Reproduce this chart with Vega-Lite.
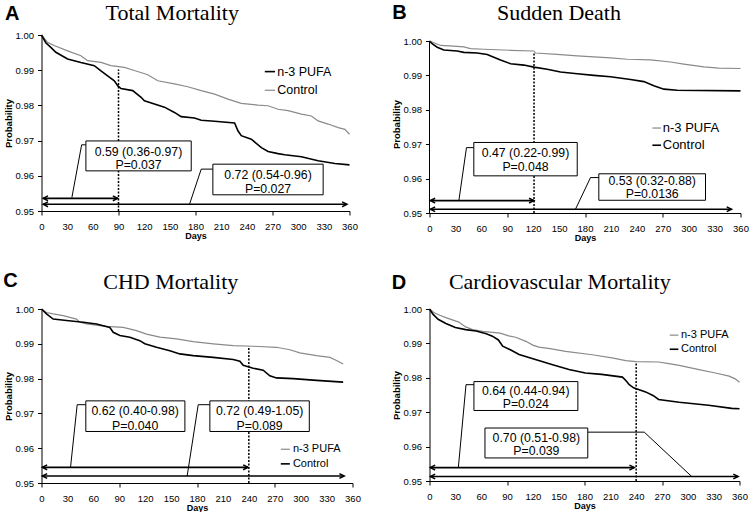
{
"$schema": "https://vega.github.io/schema/vega-lite/v6.json",
"background": "white",
"padding": {"left": 2.5, "top": 2, "right": 0, "bottom": 0},
"columns": 2,
"spacing": {"row": 29, "column": 30},
"datasets": {
"curves": [
{"panel":"A","series":"n-3 PUFA","x":0,"y":1},{"panel":"A","series":"n-3 PUFA","x":5,"y":0.9978},{"panel":"A","series":"n-3 PUFA","x":10.9,"y":0.9965},{"panel":"A","series":"n-3 PUFA","x":16.8,"y":0.9951},{"panel":"A","series":"n-3 PUFA","x":30.5,"y":0.9932},{"panel":"A","series":"n-3 PUFA","x":46.1,"y":0.9922},{"panel":"A","series":"n-3 PUFA","x":61.7,"y":0.9913},{"panel":"A","series":"n-3 PUFA","x":69.5,"y":0.9898},{"panel":"A","series":"n-3 PUFA","x":77.3,"y":0.9884},{"panel":"A","series":"n-3 PUFA","x":85.1,"y":0.987},{"panel":"A","series":"n-3 PUFA","x":89,"y":0.9856},{"panel":"A","series":"n-3 PUFA","x":92.9,"y":0.9848},{"panel":"A","series":"n-3 PUFA","x":106.6,"y":0.9842},{"panel":"A","series":"n-3 PUFA","x":116.4,"y":0.9823},{"panel":"A","series":"n-3 PUFA","x":120.3,"y":0.9813},{"panel":"A","series":"n-3 PUFA","x":132,"y":0.9804},{"panel":"A","series":"n-3 PUFA","x":143.7,"y":0.9795},{"panel":"A","series":"n-3 PUFA","x":155.4,"y":0.978},{"panel":"A","series":"n-3 PUFA","x":163.2,"y":0.9768},{"panel":"A","series":"n-3 PUFA","x":178.8,"y":0.9764},{"panel":"A","series":"n-3 PUFA","x":186.7,"y":0.9758},{"panel":"A","series":"n-3 PUFA","x":202.3,"y":0.9755},{"panel":"A","series":"n-3 PUFA","x":225.7,"y":0.975},{"panel":"A","series":"n-3 PUFA","x":229.6,"y":0.9728},{"panel":"A","series":"n-3 PUFA","x":233.5,"y":0.9714},{"panel":"A","series":"n-3 PUFA","x":245.2,"y":0.9704},{"panel":"A","series":"n-3 PUFA","x":257,"y":0.968},{"panel":"A","series":"n-3 PUFA","x":264.8,"y":0.9669},{"panel":"A","series":"n-3 PUFA","x":276.5,"y":0.9663},{"panel":"A","series":"n-3 PUFA","x":284.3,"y":0.966},{"panel":"A","series":"n-3 PUFA","x":303.8,"y":0.9654},{"panel":"A","series":"n-3 PUFA","x":323.3,"y":0.9643},{"panel":"A","series":"n-3 PUFA","x":342.9,"y":0.9635},{"panel":"A","series":"n-3 PUFA","x":360,"y":0.9631},
{"panel":"A","series":"Control","x":0,"y":1},{"panel":"A","series":"Control","x":7,"y":0.9979},{"panel":"A","series":"Control","x":14.8,"y":0.997},{"panel":"A","series":"Control","x":30.5,"y":0.9955},{"panel":"A","series":"Control","x":46.1,"y":0.9941},{"panel":"A","series":"Control","x":53.9,"y":0.9927},{"panel":"A","series":"Control","x":69.5,"y":0.9922},{"panel":"A","series":"Control","x":81.2,"y":0.9913},{"panel":"A","series":"Control","x":96.8,"y":0.9908},{"panel":"A","series":"Control","x":108.6,"y":0.9899},{"panel":"A","series":"Control","x":124.2,"y":0.9887},{"panel":"A","series":"Control","x":135.9,"y":0.987},{"panel":"A","series":"Control","x":155.4,"y":0.9861},{"panel":"A","series":"Control","x":171,"y":0.9853},{"panel":"A","series":"Control","x":186.7,"y":0.9842},{"panel":"A","series":"Control","x":202.3,"y":0.9832},{"panel":"A","series":"Control","x":217.9,"y":0.9818},{"panel":"A","series":"Control","x":233.5,"y":0.9806},{"panel":"A","series":"Control","x":253,"y":0.9801},{"panel":"A","series":"Control","x":264.8,"y":0.9799},{"panel":"A","series":"Control","x":276.5,"y":0.9789},{"panel":"A","series":"Control","x":288.2,"y":0.9785},{"panel":"A","series":"Control","x":303.8,"y":0.9775},{"panel":"A","series":"Control","x":315.5,"y":0.977},{"panel":"A","series":"Control","x":323.3,"y":0.9756},{"panel":"A","series":"Control","x":335,"y":0.9747},{"panel":"A","series":"Control","x":346.8,"y":0.9737},{"panel":"A","series":"Control","x":354.6,"y":0.9732},{"panel":"A","series":"Control","x":360,"y":0.9718},
{"panel":"B","series":"n-3 PUFA","x":0,"y":1},{"panel":"B","series":"n-3 PUFA","x":5,"y":0.9995},{"panel":"B","series":"n-3 PUFA","x":12.7,"y":0.9987},{"panel":"B","series":"n-3 PUFA","x":28,"y":0.9985},{"panel":"B","series":"n-3 PUFA","x":39.7,"y":0.9983},{"panel":"B","series":"n-3 PUFA","x":47.5,"y":0.9978},{"panel":"B","series":"n-3 PUFA","x":62.9,"y":0.9976},{"panel":"B","series":"n-3 PUFA","x":93.8,"y":0.9973},{"panel":"B","series":"n-3 PUFA","x":120.8,"y":0.9971},{"panel":"B","series":"n-3 PUFA","x":122.7,"y":0.9965},{"panel":"B","series":"n-3 PUFA","x":147.8,"y":0.9961},{"panel":"B","series":"n-3 PUFA","x":171,"y":0.9957},{"panel":"B","series":"n-3 PUFA","x":209.5,"y":0.9951},{"panel":"B","series":"n-3 PUFA","x":228.8,"y":0.9947},{"panel":"B","series":"n-3 PUFA","x":255.9,"y":0.9945},{"panel":"B","series":"n-3 PUFA","x":279,"y":0.9939},{"panel":"B","series":"n-3 PUFA","x":294.4,"y":0.9933},{"panel":"B","series":"n-3 PUFA","x":317.6,"y":0.9925},{"panel":"B","series":"n-3 PUFA","x":335,"y":0.9921},{"panel":"B","series":"n-3 PUFA","x":360,"y":0.992},
{"panel":"B","series":"Control","x":0,"y":1},{"panel":"B","series":"Control","x":3,"y":0.9992},{"panel":"B","series":"Control","x":8.9,"y":0.9982},{"panel":"B","series":"Control","x":16.6,"y":0.9974},{"panel":"B","series":"Control","x":32,"y":0.9971},{"panel":"B","series":"Control","x":39.7,"y":0.9967},{"panel":"B","series":"Control","x":55.2,"y":0.9965},{"panel":"B","series":"Control","x":66.8,"y":0.9961},{"panel":"B","series":"Control","x":82.2,"y":0.9945},{"panel":"B","series":"Control","x":93.8,"y":0.9934},{"panel":"B","series":"Control","x":109.2,"y":0.993},{"panel":"B","series":"Control","x":120.8,"y":0.9924},{"panel":"B","series":"Control","x":136.2,"y":0.9918},{"panel":"B","series":"Control","x":151.7,"y":0.991},{"panel":"B","series":"Control","x":171,"y":0.9905},{"panel":"B","series":"Control","x":190.3,"y":0.99},{"panel":"B","series":"Control","x":209.5,"y":0.9896},{"panel":"B","series":"Control","x":232.7,"y":0.9888},{"panel":"B","series":"Control","x":248.1,"y":0.9882},{"panel":"B","series":"Control","x":259.7,"y":0.987},{"panel":"B","series":"Control","x":271.3,"y":0.986},{"panel":"B","series":"Control","x":286.7,"y":0.9857},{"panel":"B","series":"Control","x":360,"y":0.9855},
{"panel":"C","series":"n-3 PUFA","x":0,"y":1},{"panel":"C","series":"n-3 PUFA","x":5.8,"y":0.999},{"panel":"C","series":"n-3 PUFA","x":13.5,"y":0.9986},{"panel":"C","series":"n-3 PUFA","x":25.1,"y":0.9981},{"panel":"C","series":"n-3 PUFA","x":32.8,"y":0.9976},{"panel":"C","series":"n-3 PUFA","x":40.5,"y":0.9971},{"panel":"C","series":"n-3 PUFA","x":44.4,"y":0.9962},{"panel":"C","series":"n-3 PUFA","x":52.1,"y":0.9957},{"panel":"C","series":"n-3 PUFA","x":67.5,"y":0.9952},{"panel":"C","series":"n-3 PUFA","x":75.3,"y":0.995},{"panel":"C","series":"n-3 PUFA","x":94.5,"y":0.9947},{"panel":"C","series":"n-3 PUFA","x":110,"y":0.9938},{"panel":"C","series":"n-3 PUFA","x":121.6,"y":0.9928},{"panel":"C","series":"n-3 PUFA","x":137,"y":0.9919},{"panel":"C","series":"n-3 PUFA","x":156.3,"y":0.9914},{"panel":"C","series":"n-3 PUFA","x":175.6,"y":0.9906},{"panel":"C","series":"n-3 PUFA","x":198.7,"y":0.99},{"panel":"C","series":"n-3 PUFA","x":221.9,"y":0.9895},{"panel":"C","series":"n-3 PUFA","x":245,"y":0.9893},{"panel":"C","series":"n-3 PUFA","x":272,"y":0.989},{"panel":"C","series":"n-3 PUFA","x":287.5,"y":0.9883},{"panel":"C","series":"n-3 PUFA","x":299,"y":0.9874},{"panel":"C","series":"n-3 PUFA","x":318.4,"y":0.9866},{"panel":"C","series":"n-3 PUFA","x":333.8,"y":0.9861},{"panel":"C","series":"n-3 PUFA","x":341.5,"y":0.9852},{"panel":"C","series":"n-3 PUFA","x":349.2,"y":0.9842},
{"panel":"C","series":"Control","x":0,"y":1},{"panel":"C","series":"Control","x":5.8,"y":0.9986},{"panel":"C","series":"Control","x":13.5,"y":0.9971},{"panel":"C","series":"Control","x":28.9,"y":0.9967},{"panel":"C","series":"Control","x":48.2,"y":0.9962},{"panel":"C","series":"Control","x":63.7,"y":0.9957},{"panel":"C","series":"Control","x":79.1,"y":0.9947},{"panel":"C","series":"Control","x":83,"y":0.9933},{"panel":"C","series":"Control","x":90.7,"y":0.9924},{"panel":"C","series":"Control","x":102.3,"y":0.9919},{"panel":"C","series":"Control","x":113.8,"y":0.9909},{"panel":"C","series":"Control","x":119.6,"y":0.99},{"panel":"C","series":"Control","x":133.1,"y":0.989},{"panel":"C","series":"Control","x":148.6,"y":0.988},{"panel":"C","series":"Control","x":160.1,"y":0.9871},{"panel":"C","series":"Control","x":175.6,"y":0.9866},{"panel":"C","series":"Control","x":198.7,"y":0.9861},{"panel":"C","series":"Control","x":221.9,"y":0.9855},{"panel":"C","series":"Control","x":229.6,"y":0.985},{"panel":"C","series":"Control","x":233.5,"y":0.9838},{"panel":"C","series":"Control","x":245,"y":0.983},{"panel":"C","series":"Control","x":256.6,"y":0.9824},{"panel":"C","series":"Control","x":264.3,"y":0.9808},{"panel":"C","series":"Control","x":272,"y":0.9802},{"panel":"C","series":"Control","x":291.4,"y":0.98},{"panel":"C","series":"Control","x":318.4,"y":0.9795},{"panel":"C","series":"Control","x":349.2,"y":0.979},
{"panel":"D","series":"n-3 PUFA","x":0,"y":1},{"panel":"D","series":"n-3 PUFA","x":5,"y":0.999},{"panel":"D","series":"n-3 PUFA","x":12,"y":0.9982},{"panel":"D","series":"n-3 PUFA","x":19,"y":0.9975},{"panel":"D","series":"n-3 PUFA","x":34,"y":0.9962},{"panel":"D","series":"n-3 PUFA","x":42,"y":0.9948},{"panel":"D","series":"n-3 PUFA","x":50,"y":0.994},{"panel":"D","series":"n-3 PUFA","x":62,"y":0.9935},{"panel":"D","series":"n-3 PUFA","x":82,"y":0.993},{"panel":"D","series":"n-3 PUFA","x":92,"y":0.9922},{"panel":"D","series":"n-3 PUFA","x":100,"y":0.9918},{"panel":"D","series":"n-3 PUFA","x":112,"y":0.9906},{"panel":"D","series":"n-3 PUFA","x":120,"y":0.9895},{"panel":"D","series":"n-3 PUFA","x":127,"y":0.9889},{"panel":"D","series":"n-3 PUFA","x":140,"y":0.9885},{"panel":"D","series":"n-3 PUFA","x":158,"y":0.9877},{"panel":"D","series":"n-3 PUFA","x":189,"y":0.9867},{"panel":"D","series":"n-3 PUFA","x":212,"y":0.9858},{"panel":"D","series":"n-3 PUFA","x":228,"y":0.985},{"panel":"D","series":"n-3 PUFA","x":240,"y":0.9847},{"panel":"D","series":"n-3 PUFA","x":266,"y":0.9846},{"panel":"D","series":"n-3 PUFA","x":278,"y":0.9841},{"panel":"D","series":"n-3 PUFA","x":290,"y":0.9836},{"panel":"D","series":"n-3 PUFA","x":313,"y":0.9824},{"panel":"D","series":"n-3 PUFA","x":332,"y":0.9814},{"panel":"D","series":"n-3 PUFA","x":348,"y":0.9805},{"panel":"D","series":"n-3 PUFA","x":355,"y":0.9797},{"panel":"D","series":"n-3 PUFA","x":360,"y":0.9787},
{"panel":"D","series":"Control","x":0,"y":1},{"panel":"D","series":"Control","x":4,"y":0.9985},{"panel":"D","series":"Control","x":10,"y":0.997},{"panel":"D","series":"Control","x":19,"y":0.9958},{"panel":"D","series":"Control","x":30,"y":0.9946},{"panel":"D","series":"Control","x":42,"y":0.994},{"panel":"D","series":"Control","x":54,"y":0.9936},{"panel":"D","series":"Control","x":66,"y":0.9928},{"panel":"D","series":"Control","x":73,"y":0.9921},{"panel":"D","series":"Control","x":80,"y":0.991},{"panel":"D","series":"Control","x":85,"y":0.9892},{"panel":"D","series":"Control","x":95,"y":0.988},{"panel":"D","series":"Control","x":104,"y":0.9868},{"panel":"D","series":"Control","x":123,"y":0.9853},{"panel":"D","series":"Control","x":143,"y":0.9838},{"panel":"D","series":"Control","x":162,"y":0.9824},{"panel":"D","series":"Control","x":181,"y":0.9814},{"panel":"D","series":"Control","x":200,"y":0.981},{"panel":"D","series":"Control","x":224,"y":0.9802},{"panel":"D","series":"Control","x":228,"y":0.9792},{"panel":"D","series":"Control","x":232,"y":0.978},{"panel":"D","series":"Control","x":237,"y":0.9771},{"panel":"D","series":"Control","x":251,"y":0.9759},{"panel":"D","series":"Control","x":260,"y":0.9748},{"panel":"D","series":"Control","x":266,"y":0.9737},{"panel":"D","series":"Control","x":290,"y":0.9729},{"panel":"D","series":"Control","x":324,"y":0.972},{"panel":"D","series":"Control","x":351,"y":0.9711},{"panel":"D","series":"Control","x":360,"y":0.971}
],
"axisline": [
{"panel":"B","x":0,"y":0.95,"y2":1.0}
],
"dotted": [
{"panel":"A","x":90,"y":0.95,"y2":0.9902},
{"panel":"B","x":121,"y":0.95,"y2":0.9966},
{"panel":"C","x":240,"y":0.95,"y2":0.9893},
{"panel":"D","x":240,"y":0.95,"y2":0.9847}
],
"arrows": [
{"panel":"A","x":2,"x2":89,"y":0.9536},{"panel":"A","x":2,"x2":357,"y":0.9519},
{"panel":"B","x":1,"x2":120.8,"y":0.9536},{"panel":"B","x":1,"x2":349.6,"y":0.9511},
{"panel":"C","x":1,"x2":239,"y":0.9545},{"panel":"C","x":1,"x2":350.4,"y":0.952},
{"panel":"D","x":1,"x2":237.8,"y":0.9539},{"panel":"D","x":1,"x2":358.4,"y":0.9513}
],
"leaders": [
{"panel":"A","id":"A1","k":1,"x":51.9,"y":0.9688},{"panel":"A","id":"A1","k":2,"x":46.9,"y":0.9688},{"panel":"A","id":"A1","k":3,"x":35.5,"y":0.9538},
{"panel":"A","id":"A2","k":1,"x":200.3,"y":0.9619},{"panel":"A","id":"A2","k":2,"x":186.7,"y":0.9619},{"panel":"A","id":"A2","k":3,"x":173,"y":0.9519},
{"panel":"B","id":"B1","k":1,"x":51.3,"y":0.969},{"panel":"B","id":"B1","k":2,"x":42.8,"y":0.969},{"panel":"B","id":"B1","k":3,"x":34,"y":0.9536},
{"panel":"B","id":"B2","k":1,"x":196,"y":0.9603},{"panel":"B","id":"B2","k":2,"x":186.4,"y":0.9603},{"panel":"B","id":"B2","k":3,"x":169,"y":0.9511},
{"panel":"C","id":"C1","k":1,"x":51.3,"y":0.9725},{"panel":"C","id":"C1","k":2,"x":41.3,"y":0.9725},{"panel":"C","id":"C1","k":3,"x":33.6,"y":0.9545},
{"panel":"C","id":"C2","k":1,"x":194.9,"y":0.9725},{"panel":"C","id":"C2","k":2,"x":181.4,"y":0.9725},{"panel":"C","id":"C2","k":3,"x":168.6,"y":0.952},
{"panel":"D","id":"D1","k":1,"x":51.6,"y":0.978},{"panel":"D","id":"D1","k":2,"x":42.4,"y":0.978},{"panel":"D","id":"D1","k":3,"x":33.5,"y":0.9539},
{"panel":"D","id":"D2","k":1,"x":183.8,"y":0.9642},{"panel":"D","id":"D2","k":2,"x":249.4,"y":0.9642},{"panel":"D","id":"D2","k":3,"x":304.5,"y":0.9513}
],
"boxes": [
{"panel":"A","x":51.9,"x2":175,"y":0.9699,"y2":0.9614},{"panel":"A","x":200.3,"x2":329.2,"y":0.9633,"y2":0.9546},
{"panel":"B","x":51.3,"x2":171,"y":0.9705,"y2":0.9608},{"panel":"B","x":196,"x2":319.5,"y":0.9614,"y2":0.9537},
{"panel":"C","x":51.3,"x2":166,"y":0.9736,"y2":0.9648},{"panel":"C","x":194.9,"x2":310,"y":0.9736,"y2":0.9648},
{"panel":"D","x":51.6,"x2":172.3,"y":0.9789,"y2":0.9705},{"panel":"D","x":64.4,"x2":183.8,"y":0.9654,"y2":0.9567}
],
"boxtext": [
{"panel":"A","x":113.4,"y":0.9669,"t":"0.59 (0.36-0.97)"},{"panel":"A","x":113.4,"y":0.9631,"t":"P=0.037"},
{"panel":"A","x":264.8,"y":0.9602,"t":"0.72 (0.54-0.96)"},{"panel":"A","x":264.8,"y":0.9562,"t":"P=0.027"},
{"panel":"B","x":111.1,"y":0.9673,"t":"0.47 (0.22-0.99)"},{"panel":"B","x":111.1,"y":0.9635,"t":"P=0.048"},
{"panel":"B","x":257.8,"y":0.9593,"t":"0.53 (0.32-0.88)"},{"panel":"B","x":257.8,"y":0.9555,"t":"P=0.0136"},
{"panel":"C","x":108.4,"y":0.9708,"t":"0.62 (0.40-0.98)"},{"panel":"C","x":108.4,"y":0.9665,"t":"P=0.040"},
{"panel":"C","x":252.5,"y":0.9708,"t":"0.72 (0.49-1.05)"},{"panel":"C","x":252.5,"y":0.9665,"t":"P=0.089"},
{"panel":"D","x":111.8,"y":0.9763,"t":"0.64 (0.44-0.94)"},{"panel":"D","x":111.8,"y":0.9724,"t":"P=0.024"},
{"panel":"D","x":124.1,"y":0.9624,"t":"0.70 (0.51-0.98)"},{"panel":"D","x":124.1,"y":0.9586,"t":"P=0.039"}
],
"legend": [
{"panel":"A","series":"n-3 PUFA","x":261,"x2":273,"y":0.9896,"tx":275.5,"t":"n-3 PUFA"},{"panel":"A","series":"Control","x":261,"x2":273,"y":0.9843,"tx":275.5,"t":"Control"},
{"panel":"B","series":"n-3 PUFA","x":258,"x2":268,"y":0.9747,"tx":270,"t":"n-3 PUFA"},{"panel":"B","series":"Control","x":258,"x2":268,"y":0.9697,"tx":270,"t":"Control"},
{"panel":"C","series":"n-3 PUFA","x":277,"x2":287.5,"y":0.9597,"tx":291,"t":"n-3 PUFA"},{"panel":"C","series":"Control","x":277,"x2":287.5,"y":0.9555,"tx":291,"t":"Control"},
{"panel":"D","series":"n-3 PUFA","x":279,"x2":289,"y":0.9924,"tx":292,"t":"n-3 PUFA"},{"panel":"D","series":"Control","x":279,"x2":289,"y":0.9883,"tx":292,"t":"Control"}
],
"heads": [
{"panel":"A","kind":"letter","x":-42.7,"y":1.0042,"t":"A"},{"panel":"A","kind":"title","x":152.8,"y":1.0042,"t":"Total Mortality"},
{"panel":"B","kind":"letter","x":-43.2,"y":1.00654,"t":"B"},{"panel":"B","kind":"title","x":149.8,"y":1.00605,"t":"Sudden Death"},
{"panel":"C","kind":"letter","x":-44.4,"y":1.0062,"t":"C"},{"panel":"C","kind":"title","x":149.7,"y":1.0057,"t":"CHD Mortality"},
{"panel":"D","kind":"letter","x":-43.7,"y":1.0059,"t":"D"},{"panel":"D","kind":"title","x":151.3,"y":1.0058,"t":"Cardiovascular Mortality"}
]
},
"concat": [
{
"width": 308, "height": 176,
"encoding": {
"x": {"field":"x","type":"quantitative","title":"Days","scale":{"domain":[0,360],"nice":false,"zero":false},"axis":{"values":[0,30,60,90,120,150,180,210,240,270,300,330,360],"labelFontSize":9.5,"tickSize":4,"tickOpacity":{"condition":{"test":"datum.value % 90 === 0","value":1},"value":0},"labelPadding":6.5,"titleFontSize":9,"titleFontWeight":"bold","titlePadding":0,"labelFlush":false,"labelOverlap":false,"labelBound":false}},
"y": {"field":"y","type":"quantitative","title":"Probability","scale":{"domain":[0.95,1.0],"nice":false,"zero":false},"axis":{"values":[0.95,0.96,0.97,0.98,0.99,1.0],"format":".2f","labelFontSize":9.5,"tickSize":4,"labelPadding":4,"titleFontSize":9.5,"titleFontWeight":"bold","titlePadding":2,"labelFlush":false,"labelOverlap":false}}
},
"layer": [
{"data":{"name":"dotted"},"transform":[{"filter":"datum.panel==='A'"}],"mark":{"type":"rule","color":"black","strokeWidth":1.5,"strokeDash":[2,1.5]},"encoding":{"y2":{"field":"y2"}}},
{"data":{"name":"curves"},"transform":[{"filter":"datum.panel==='A' && datum.series==='Control'"}],"mark":{"type":"line","color":"#8a8a8a","strokeWidth":1.2},"encoding":{}},
{"data":{"name":"curves"},"transform":[{"filter":"datum.panel==='A' && datum.series==='n-3 PUFA'"}],"mark":{"type":"line","color":"black","strokeWidth":1.6},"encoding":{}},
{"data":{"name":"arrows"},"transform":[{"filter":"datum.panel==='A'"}],"mark":{"type":"rule","color":"black","strokeWidth":1.6},"encoding":{"x2":{"field":"x2"}}},
{"data":{"name":"arrows"},"transform":[{"filter":"datum.panel==='A'"}],"mark":{"type":"point","shape":"M1.6,-0.8L0,0L1.6,0.8","size":36,"filled":false,"color":"black","strokeWidth":1.5,"opacity":1},"encoding":{}},
{"data":{"name":"arrows"},"transform":[{"filter":"datum.panel==='A'"}],"mark":{"type":"point","shape":"M-1.6,-0.8L0,0L-1.6,0.8","size":36,"filled":false,"color":"black","strokeWidth":1.5,"opacity":1},"encoding":{"x":{"field":"x2","type":"quantitative","title":"Days"}}},
{"data":{"name":"leaders"},"transform":[{"filter":"datum.panel==='A'"}],"mark":{"type":"line","color":"black","strokeWidth":1},"encoding":{"detail":{"field":"id"},"order":{"field":"k"}}},
{"data":{"name":"boxes"},"transform":[{"filter":"datum.panel==='A'"}],"mark":{"type":"rect","fill":"white","stroke":"black","strokeWidth":1},"encoding":{"x2":{"field":"x2"},"y2":{"field":"y2"}}},
{"data":{"name":"boxtext"},"transform":[{"filter":"datum.panel==='A'"}],"mark":{"type":"text","font":"Liberation Sans","fontSize":12.3,"color":"black","baseline":"middle"},"encoding":{"text":{"field":"t"}}},
{"data":{"name":"legend"},"transform":[{"filter":"datum.panel==='A' && datum.series==='n-3 PUFA'"}],"mark":{"type":"rule","color":"black","strokeWidth":1.6},"encoding":{"x2":{"field":"x2"}}},
{"data":{"name":"legend"},"transform":[{"filter":"datum.panel==='A' && datum.series==='Control'"}],"mark":{"type":"rule","color":"#8a8a8a","strokeWidth":1.2},"encoding":{"x2":{"field":"x2"}}},
{"data":{"name":"legend"},"transform":[{"filter":"datum.panel==='A'"}],"mark":{"type":"text","font":"Liberation Sans","fontSize":12.5,"color":"black","align":"left","baseline":"middle"},"encoding":{"x":{"field":"tx","type":"quantitative","title":"Days"},"text":{"field":"t"}}},
{"data":{"name":"heads"},"transform":[{"filter":"datum.panel==='A' && datum.kind==='letter'"}],"mark":{"type":"text","font":"Liberation Sans","fontWeight":"bold","fontSize":20,"color":"black","align":"left","baseline":"alphabetic"},"encoding":{"text":{"field":"t"}}},
{"data":{"name":"heads"},"transform":[{"filter":"datum.panel==='A' && datum.kind==='title'"}],"mark":{"type":"text","font":"Liberation Serif","fontSize":22,"color":"black","align":"center","baseline":"alphabetic"},"encoding":{"text":{"field":"t"}}}
]
},
{
"width": 311, "height": 178,
"encoding": {
"x": {"field":"x","type":"quantitative","title":"Days","scale":{"domain":[0,360],"nice":false,"zero":false},"axis":{"values":[0,30,60,90,120,150,180,210,240,270,300,330,360],"labelFontSize":9.5,"tickSize":4,"tickOpacity":{"condition":{"test":"datum.value % 90 === 0","value":1},"value":0},"labelPadding":6.5,"titleFontSize":9,"titleFontWeight":"bold","titlePadding":0,"labelFlush":false,"labelOverlap":false,"labelBound":false}},
"y": {"field":"y","type":"quantitative","title":"Probability","scale":{"domain":[0.95,1.0017442],"nice":false,"zero":false},"axis":{"values":[0.95,0.96,0.97,0.98,0.99,1.0],"format":".2f","domain":false,"labelFontSize":9.5,"tickSize":4,"labelPadding":4,"titleFontSize":9.5,"titleFontWeight":"bold","titlePadding":2,"labelFlush":false,"labelOverlap":false}}
},
"layer": [
{"data":{"name":"axisline"},"transform":[{"filter":"datum.panel==='B'"}],"mark":{"type":"rule","color":"black","strokeWidth":1},"encoding":{"y2":{"field":"y2"}}},
{"data":{"name":"dotted"},"transform":[{"filter":"datum.panel==='B'"}],"mark":{"type":"rule","color":"black","strokeWidth":1.5,"strokeDash":[2,1.5]},"encoding":{"y2":{"field":"y2"}}},
{"data":{"name":"curves"},"transform":[{"filter":"datum.panel==='B' && datum.series==='n-3 PUFA'"}],"mark":{"type":"line","color":"#8a8a8a","strokeWidth":1.2},"encoding":{}},
{"data":{"name":"curves"},"transform":[{"filter":"datum.panel==='B' && datum.series==='Control'"}],"mark":{"type":"line","color":"black","strokeWidth":1.6},"encoding":{}},
{"data":{"name":"arrows"},"transform":[{"filter":"datum.panel==='B'"}],"mark":{"type":"rule","color":"black","strokeWidth":1.6},"encoding":{"x2":{"field":"x2"}}},
{"data":{"name":"arrows"},"transform":[{"filter":"datum.panel==='B'"}],"mark":{"type":"point","shape":"M1.6,-0.8L0,0L1.6,0.8","size":36,"filled":false,"color":"black","strokeWidth":1.5,"opacity":1},"encoding":{}},
{"data":{"name":"arrows"},"transform":[{"filter":"datum.panel==='B'"}],"mark":{"type":"point","shape":"M-1.6,-0.8L0,0L-1.6,0.8","size":36,"filled":false,"color":"black","strokeWidth":1.5,"opacity":1},"encoding":{"x":{"field":"x2","type":"quantitative","title":"Days"}}},
{"data":{"name":"leaders"},"transform":[{"filter":"datum.panel==='B'"}],"mark":{"type":"line","color":"black","strokeWidth":1},"encoding":{"detail":{"field":"id"},"order":{"field":"k"}}},
{"data":{"name":"boxes"},"transform":[{"filter":"datum.panel==='B'"}],"mark":{"type":"rect","fill":"white","stroke":"black","strokeWidth":1},"encoding":{"x2":{"field":"x2"},"y2":{"field":"y2"}}},
{"data":{"name":"boxtext"},"transform":[{"filter":"datum.panel==='B'"}],"mark":{"type":"text","font":"Liberation Sans","fontSize":12.3,"color":"black","baseline":"middle"},"encoding":{"text":{"field":"t"}}},
{"data":{"name":"legend"},"transform":[{"filter":"datum.panel==='B' && datum.series==='Control'"}],"mark":{"type":"rule","color":"black","strokeWidth":1.6},"encoding":{"x2":{"field":"x2"}}},
{"data":{"name":"legend"},"transform":[{"filter":"datum.panel==='B' && datum.series==='n-3 PUFA'"}],"mark":{"type":"rule","color":"#8a8a8a","strokeWidth":1.2},"encoding":{"x2":{"field":"x2"}}},
{"data":{"name":"legend"},"transform":[{"filter":"datum.panel==='B'"}],"mark":{"type":"text","font":"Liberation Sans","fontSize":13,"color":"black","align":"left","baseline":"middle"},"encoding":{"x":{"field":"tx","type":"quantitative","title":"Days"},"text":{"field":"t"}}},
{"data":{"name":"heads"},"transform":[{"filter":"datum.panel==='B' && datum.kind==='letter'"}],"mark":{"type":"text","font":"Liberation Sans","fontWeight":"bold","fontSize":20,"color":"black","align":"left","baseline":"alphabetic"},"encoding":{"text":{"field":"t"}}},
{"data":{"name":"heads"},"transform":[{"filter":"datum.panel==='B' && datum.kind==='title'"}],"mark":{"type":"text","font":"Liberation Serif","fontSize":22,"color":"black","align":"center","baseline":"alphabetic"},"encoding":{"text":{"field":"t"}}}
]
},
{
"width": 311, "height": 174,
"encoding": {
"x": {"field":"x","type":"quantitative","title":"Days","scale":{"domain":[0,360],"nice":false,"zero":false},"axis":{"values":[0,30,60,90,120,150,180,210,240,270,300,330,360],"labelFontSize":9.5,"tickSize":4,"tickOpacity":{"condition":{"test":"datum.value % 90 === 0","value":1},"value":0},"labelPadding":6.5,"titleFontSize":9,"titleFontWeight":"bold","titlePadding":0,"labelFlush":false,"labelOverlap":false,"labelBound":false}},
"y": {"field":"y","type":"quantitative","title":"Probability","scale":{"domain":[0.95,1.0],"nice":false,"zero":false},"axis":{"values":[0.95,0.96,0.97,0.98,0.99,1.0],"format":".2f","labelFontSize":9.5,"tickSize":4,"labelPadding":4,"titleFontSize":9.5,"titleFontWeight":"bold","titlePadding":2,"labelFlush":false,"labelOverlap":false}}
},
"layer": [
{"data":{"name":"dotted"},"transform":[{"filter":"datum.panel==='C'"}],"mark":{"type":"rule","color":"black","strokeWidth":1.5,"strokeDash":[2,1.5]},"encoding":{"y2":{"field":"y2"}}},
{"data":{"name":"curves"},"transform":[{"filter":"datum.panel==='C' && datum.series==='n-3 PUFA'"}],"mark":{"type":"line","color":"#8a8a8a","strokeWidth":1.2},"encoding":{}},
{"data":{"name":"curves"},"transform":[{"filter":"datum.panel==='C' && datum.series==='Control'"}],"mark":{"type":"line","color":"black","strokeWidth":1.6},"encoding":{}},
{"data":{"name":"arrows"},"transform":[{"filter":"datum.panel==='C'"}],"mark":{"type":"rule","color":"black","strokeWidth":1.6},"encoding":{"x2":{"field":"x2"}}},
{"data":{"name":"arrows"},"transform":[{"filter":"datum.panel==='C'"}],"mark":{"type":"point","shape":"M1.6,-0.8L0,0L1.6,0.8","size":36,"filled":false,"color":"black","strokeWidth":1.5,"opacity":1},"encoding":{}},
{"data":{"name":"arrows"},"transform":[{"filter":"datum.panel==='C'"}],"mark":{"type":"point","shape":"M-1.6,-0.8L0,0L-1.6,0.8","size":36,"filled":false,"color":"black","strokeWidth":1.5,"opacity":1},"encoding":{"x":{"field":"x2","type":"quantitative","title":"Days"}}},
{"data":{"name":"leaders"},"transform":[{"filter":"datum.panel==='C'"}],"mark":{"type":"line","color":"black","strokeWidth":1},"encoding":{"detail":{"field":"id"},"order":{"field":"k"}}},
{"data":{"name":"boxes"},"transform":[{"filter":"datum.panel==='C'"}],"mark":{"type":"rect","fill":"white","stroke":"black","strokeWidth":1},"encoding":{"x2":{"field":"x2"},"y2":{"field":"y2"}}},
{"data":{"name":"boxtext"},"transform":[{"filter":"datum.panel==='C'"}],"mark":{"type":"text","font":"Liberation Sans","fontSize":12.3,"color":"black","baseline":"middle"},"encoding":{"text":{"field":"t"}}},
{"data":{"name":"legend"},"transform":[{"filter":"datum.panel==='C' && datum.series==='Control'"}],"mark":{"type":"rule","color":"black","strokeWidth":1.6},"encoding":{"x2":{"field":"x2"}}},
{"data":{"name":"legend"},"transform":[{"filter":"datum.panel==='C' && datum.series==='n-3 PUFA'"}],"mark":{"type":"rule","color":"#8a8a8a","strokeWidth":1.2},"encoding":{"x2":{"field":"x2"}}},
{"data":{"name":"legend"},"transform":[{"filter":"datum.panel==='C'"}],"mark":{"type":"text","font":"Liberation Sans","fontSize":11,"color":"black","align":"left","baseline":"middle"},"encoding":{"x":{"field":"tx","type":"quantitative","title":"Days"},"text":{"field":"t"}}},
{"data":{"name":"heads"},"transform":[{"filter":"datum.panel==='C' && datum.kind==='letter'"}],"mark":{"type":"text","font":"Liberation Sans","fontWeight":"bold","fontSize":20,"color":"black","align":"left","baseline":"alphabetic"},"encoding":{"text":{"field":"t"}}},
{"data":{"name":"heads"},"transform":[{"filter":"datum.panel==='C' && datum.kind==='title'"}],"mark":{"type":"text","font":"Liberation Serif","fontSize":22,"color":"black","align":"center","baseline":"alphabetic"},"encoding":{"text":{"field":"t"}}}
]
},
{
"width": 310, "height": 172,
"encoding": {
"x": {"field":"x","type":"quantitative","title":"Days","scale":{"domain":[0,360],"nice":false,"zero":false},"axis":{"values":[0,30,60,90,120,150,180,210,240,270,300,330,360],"labelFontSize":9.5,"tickSize":4,"tickOpacity":{"condition":{"test":"datum.value % 90 === 0","value":1},"value":0},"labelPadding":6.5,"titleFontSize":9,"titleFontWeight":"bold","titlePadding":0,"labelFlush":false,"labelOverlap":false,"labelBound":false}},
"y": {"field":"y","type":"quantitative","title":"Probability","scale":{"domain":[0.95,1.0],"nice":false,"zero":false},"axis":{"values":[0.95,0.96,0.97,0.98,0.99,1.0],"format":".2f","labelFontSize":9.5,"tickSize":4,"labelPadding":4,"titleFontSize":9.5,"titleFontWeight":"bold","titlePadding":2,"labelFlush":false,"labelOverlap":false}}
},
"layer": [
{"data":{"name":"dotted"},"transform":[{"filter":"datum.panel==='D'"}],"mark":{"type":"rule","color":"black","strokeWidth":1.5,"strokeDash":[2,1.5]},"encoding":{"y2":{"field":"y2"}}},
{"data":{"name":"curves"},"transform":[{"filter":"datum.panel==='D' && datum.series==='n-3 PUFA'"}],"mark":{"type":"line","color":"#8a8a8a","strokeWidth":1.2},"encoding":{}},
{"data":{"name":"curves"},"transform":[{"filter":"datum.panel==='D' && datum.series==='Control'"}],"mark":{"type":"line","color":"black","strokeWidth":1.6},"encoding":{}},
{"data":{"name":"arrows"},"transform":[{"filter":"datum.panel==='D'"}],"mark":{"type":"rule","color":"black","strokeWidth":1.6},"encoding":{"x2":{"field":"x2"}}},
{"data":{"name":"arrows"},"transform":[{"filter":"datum.panel==='D'"}],"mark":{"type":"point","shape":"M1.6,-0.8L0,0L1.6,0.8","size":36,"filled":false,"color":"black","strokeWidth":1.5,"opacity":1},"encoding":{}},
{"data":{"name":"arrows"},"transform":[{"filter":"datum.panel==='D'"}],"mark":{"type":"point","shape":"M-1.6,-0.8L0,0L-1.6,0.8","size":36,"filled":false,"color":"black","strokeWidth":1.5,"opacity":1},"encoding":{"x":{"field":"x2","type":"quantitative","title":"Days"}}},
{"data":{"name":"leaders"},"transform":[{"filter":"datum.panel==='D'"}],"mark":{"type":"line","color":"black","strokeWidth":1},"encoding":{"detail":{"field":"id"},"order":{"field":"k"}}},
{"data":{"name":"boxes"},"transform":[{"filter":"datum.panel==='D'"}],"mark":{"type":"rect","fill":"white","stroke":"black","strokeWidth":1},"encoding":{"x2":{"field":"x2"},"y2":{"field":"y2"}}},
{"data":{"name":"boxtext"},"transform":[{"filter":"datum.panel==='D'"}],"mark":{"type":"text","font":"Liberation Sans","fontSize":12.3,"color":"black","baseline":"middle"},"encoding":{"text":{"field":"t"}}},
{"data":{"name":"legend"},"transform":[{"filter":"datum.panel==='D' && datum.series==='Control'"}],"mark":{"type":"rule","color":"black","strokeWidth":1.6},"encoding":{"x2":{"field":"x2"}}},
{"data":{"name":"legend"},"transform":[{"filter":"datum.panel==='D' && datum.series==='n-3 PUFA'"}],"mark":{"type":"rule","color":"#8a8a8a","strokeWidth":1.2},"encoding":{"x2":{"field":"x2"}}},
{"data":{"name":"legend"},"transform":[{"filter":"datum.panel==='D'"}],"mark":{"type":"text","font":"Liberation Sans","fontSize":11,"color":"black","align":"left","baseline":"middle"},"encoding":{"x":{"field":"tx","type":"quantitative","title":"Days"},"text":{"field":"t"}}},
{"data":{"name":"heads"},"transform":[{"filter":"datum.panel==='D' && datum.kind==='letter'"}],"mark":{"type":"text","font":"Liberation Sans","fontWeight":"bold","fontSize":20,"color":"black","align":"left","baseline":"alphabetic"},"encoding":{"text":{"field":"t"}}},
{"data":{"name":"heads"},"transform":[{"filter":"datum.panel==='D' && datum.kind==='title'"}],"mark":{"type":"text","font":"Liberation Serif","fontSize":22,"color":"black","align":"center","baseline":"alphabetic"},"encoding":{"text":{"field":"t"}}}
]
}
],
"config": {
"view": {"stroke": null},
"axis": {"grid": false, "domainColor": "black", "tickColor": "black", "labelColor": "black", "titleColor": "black", "labelFont": "Liberation Sans", "titleFont": "Liberation Sans", "domainWidth": 1, "tickWidth": 1}
}
}
